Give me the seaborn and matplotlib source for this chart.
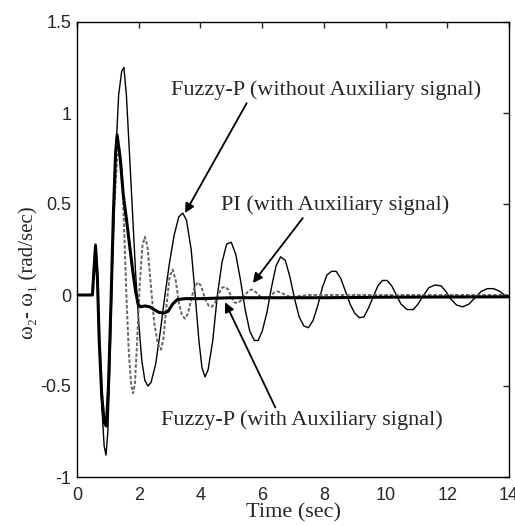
import matplotlib
matplotlib.use("Agg")
import matplotlib.pyplot as plt
import seaborn as sns
import pandas as pd

# ---- data ----
t_nf = [0.0, 0.5, 0.55, 0.6, 0.66, 0.72, 0.8, 0.88, 0.94, 1.0, 1.08, 1.16, 1.25, 1.35, 1.45, 1.52,
        1.6, 1.7, 1.8, 1.9, 2.0, 2.1, 2.2, 2.3, 2.4, 2.55, 2.7, 2.85, 3.0, 3.15, 3.3, 3.43, 3.55,
        3.7, 3.82, 3.95, 4.05, 4.15, 4.25, 4.4, 4.55, 4.7, 4.85, 5.0, 5.15, 5.3, 5.45, 5.6, 5.75,
        5.87, 6.0, 6.15, 6.3, 6.45, 6.6, 6.75, 6.9, 7.05, 7.2, 7.35, 7.5, 7.65, 7.8, 7.95, 8.1,
        8.25, 8.4, 8.55, 8.7, 8.85, 9.0, 9.15, 9.3, 9.45, 9.6, 9.75, 9.9, 10.05, 10.2, 10.35,
        10.5, 10.7, 10.9, 11.05, 11.2, 11.4, 11.6, 11.8, 11.95, 12.1, 12.3, 12.5, 12.7, 12.9,
        13.1, 13.3, 13.5, 13.7, 13.85, 14.0]
y_nf = [0.0, 0.0, 0.14, 0.28, 0.12, -0.25, -0.6, -0.83, -0.88, -0.75, -0.3, 0.25, 0.75, 1.1, 1.23, 1.25,
        1.1, 0.78, 0.45, 0.12, -0.15, -0.36, -0.47, -0.5, -0.48, -0.38, -0.2, 0.0, 0.18, 0.33, 0.43, 0.45, 0.41,
        0.25, 0.02, -0.25, -0.4, -0.45, -0.41, -0.25, 0.0, 0.18, 0.28, 0.29, 0.22, 0.08, -0.08, -0.2, -0.25,
        -0.25, -0.2, -0.1, 0.04, 0.16, 0.21, 0.19, 0.1, -0.02, -0.12, -0.17, -0.18, -0.14, -0.06, 0.04, 0.11,
        0.13, 0.13, 0.09, 0.02, -0.05, -0.1, -0.125, -0.12, -0.07, -0.01, 0.05, 0.08, 0.08, 0.05, 0.0,
        -0.05, -0.08, -0.08, -0.05, -0.01, 0.04, 0.055, 0.05, 0.02, -0.02, -0.055, -0.065, -0.05, -0.015,
        0.02, 0.035, 0.035, 0.02, 0.0, -0.01]

t_pi = [0.0, 0.5, 0.55, 0.6, 0.66, 0.72, 0.8, 0.88, 0.95, 1.02, 1.1, 1.2, 1.3, 1.38, 1.45, 1.52, 1.6,
        1.68, 1.76, 1.82, 1.88, 1.95, 2.03, 2.12, 2.2, 2.28, 2.38, 2.5, 2.62, 2.72, 2.8, 2.9, 3.0, 3.1,
        3.2, 3.3, 3.4, 3.5, 3.6, 3.72, 3.82, 3.92, 4.02, 4.15, 4.27, 4.37, 4.48, 4.6, 4.7, 4.8, 4.9,
        5.0, 5.1, 5.2, 5.32, 5.45, 5.57, 5.67, 5.8, 5.95, 6.1, 6.25, 6.4, 6.5, 6.65, 6.8, 7.0, 7.5, 14.0]
y_pi = [0.0, 0.0, 0.14, 0.28, 0.12, -0.2, -0.5, -0.68, -0.7, -0.5, -0.05, 0.45, 0.75, 0.8, 0.7, 0.4, 0.0,
        -0.32, -0.5, -0.54, -0.48, -0.25, 0.05, 0.27, 0.32, 0.27, 0.08, -0.15, -0.27, -0.3, -0.24, -0.06, 0.1, 0.14,
        0.08, -0.04, -0.11, -0.13, -0.1, -0.01, 0.05, 0.07, 0.05, -0.02, -0.06, -0.065, -0.04, 0.01, 0.04, 0.045, 0.03,
        -0.01, -0.04, -0.045, -0.03, 0.0, 0.025, 0.03, 0.015, -0.01, -0.02, -0.01, 0.015, 0.02, 0.01, -0.005, -0.01, 0.0, 0.0]

t_fa = [0.0, 0.5, 0.55, 0.6, 0.66, 0.72, 0.8, 0.88, 0.95, 1.02, 1.1, 1.18, 1.25, 1.3, 1.4, 1.5, 1.6,
        1.7, 1.8, 1.9, 1.98, 2.05, 2.2, 2.35, 2.5, 2.65, 2.8, 2.95, 3.1, 3.25, 3.5, 4.0, 5.0, 6.0, 8.0,
        10.0, 14.0]
y_fa = [0.0, 0.0, 0.14, 0.27, 0.1, -0.25, -0.55, -0.7, -0.72, -0.5, -0.05, 0.45, 0.78, 0.88, 0.75, 0.55, 0.42,
        0.28, 0.14, 0.02, -0.05, -0.065, -0.06, -0.065, -0.08, -0.095, -0.1, -0.09, -0.05, -0.025, -0.02, -0.02,
        -0.015, -0.015, -0.015, -0.012, -0.01]

x_ticks = [0, 2, 4, 6, 8, 10, 12, 14]
y_ticks = [-1, -0.5, 0, 0.5, 1, 1.5]
y_tick_labels = ["-1", "-0.5", "0", "0.5", "1", "1.5"]

labels = ["Fuzzy-P (without Auxiliary signal)", "PI (with Auxiliary signal)",
          "Fuzzy-P (with Auxiliary signal)"]

# ---- figure ----
sns.set_style("white")
plt.rcParams["font.family"] = ["Liberation Serif", "DejaVu Serif"]

fig = plt.figure(figsize=(5.15, 5.26), dpi=100)
ax = fig.add_axes([77 / 515, 1 - 477 / 526, 432 / 515, 455 / 526])

df_nf = pd.DataFrame({"t": t_nf, "y": y_nf})
df_pi = pd.DataFrame({"t": t_pi, "y": y_pi})
df_fa = pd.DataFrame({"t": t_fa, "y": y_fa})

sns.lineplot(data=df_nf, x="t", y="y", ax=ax, color="black", lw=1.0, estimator=None, sort=False)
sns.lineplot(data=df_pi, x="t", y="y", ax=ax, color="#666666", lw=1.4, estimator=None, sort=False,
             linestyle=(0, (1.8, 1.0)))
sns.lineplot(data=df_fa, x="t", y="y", ax=ax, color="black", lw=2.2, estimator=None, sort=False)

ax.set_xlim(0, 14)
ax.set_ylim(-1, 1.5)
ax.set_xticks(x_ticks)
ax.set_yticks(y_ticks)
ax.set_yticklabels(y_tick_labels)
ax.tick_params(direction="in", top=True, right=True, length=4, width=1, labelsize=13)
for lab in ax.get_xticklabels() + ax.get_yticklabels():
    lab.set_family(["Liberation Sans", "DejaVu Sans"])
ax.tick_params(axis="x", pad=7)
ax.tick_params(axis="y", pad=4)
for s in ax.spines.values():
    s.set_color("black")
    s.set_linewidth(1.0)

ax.set_xlabel("Time (sec)", fontsize=16, labelpad=0)
ax.set_ylabel("ω₂- ω₁ (rad/sec)", fontsize=15)
ax.yaxis.set_label_coords(-0.09, 0.45)

arrow = dict(arrowstyle="-|>", color="black", lw=1.3, mutation_scale=14, shrinkA=0, shrinkB=0)
ax.annotate(labels[0], xy=(3.5, 0.45), xytext=(8.07, 1.126), fontsize=16, ha="center", va="center",
            arrowprops=dict(arrow, relpos=(0.25, 0.0)))
ax.annotate(labels[1], xy=(5.7, 0.066), xytext=(8.36, 0.495), fontsize=16, ha="center", va="center",
            arrowprops=dict(arrow, relpos=(0.37, 0.0)))
ax.annotate(labels[2], xy=(4.8, -0.04), xytext=(7.3, -0.69), fontsize=16, ha="center", va="center",
            arrowprops=dict(arrow, relpos=(0.41, 1.0)))

fig.savefig("out.png", dpi=100, facecolor="white")
